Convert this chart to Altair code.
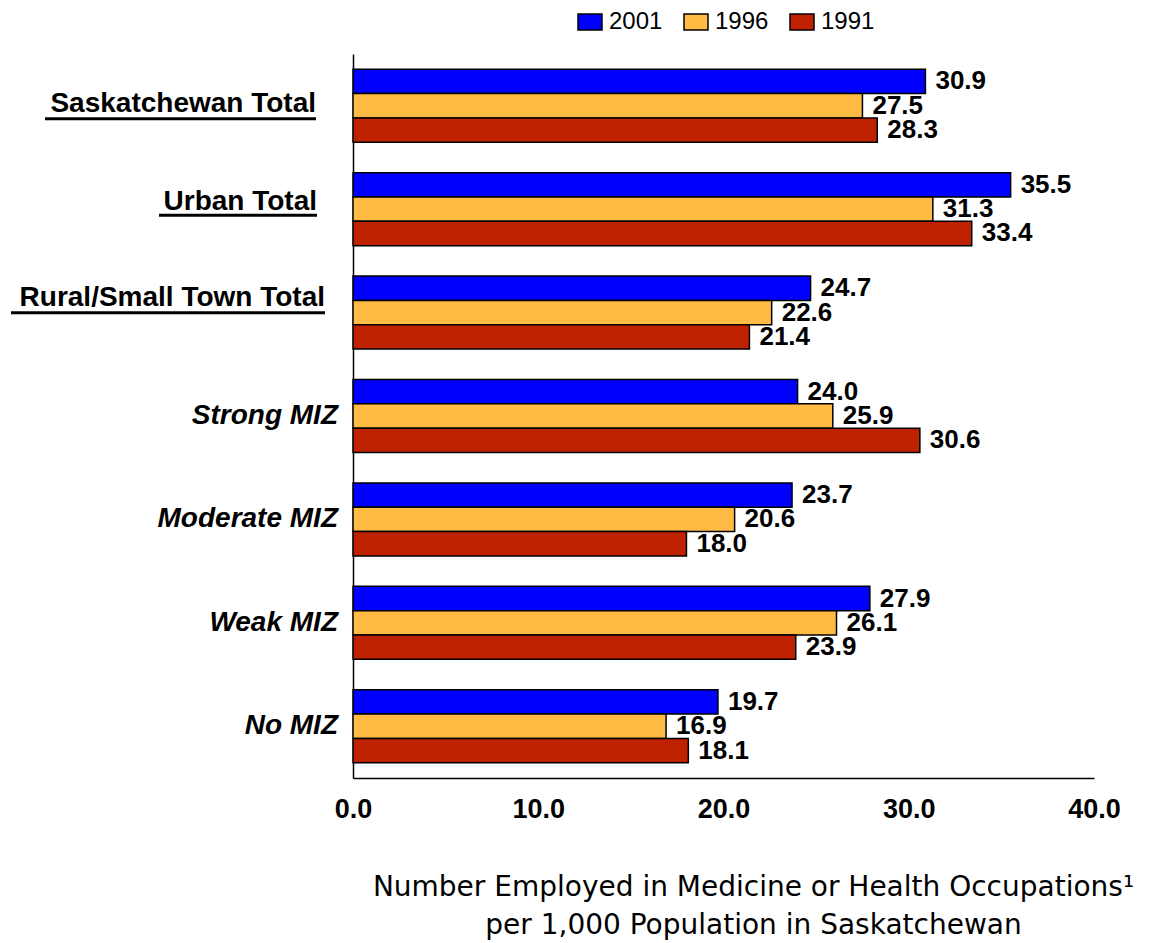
import altair as alt
import pandas as pd

# ---- data ----
categories = ["Saskatchewan Total", "Urban Total", "Rural/Small Town Total",
              "Strong MIZ", "Moderate MIZ", "Weak MIZ", "No MIZ"]
years = ["2001", "1996", "1991"]
v2001 = [30.9, 35.5, 24.7, 24.0, 23.7, 27.9, 19.7]
v1996 = [27.5, 31.3, 22.6, 25.9, 20.6, 26.1, 16.9]
v1991 = [28.3, 33.4, 21.4, 30.6, 18.0, 23.9, 18.1]
x_ticks = [0, 10, 20, 30, 40]
title_lines = ["Number Employed in Medicine or Health Occupations\u00b9",
               "per 1,000 Population in Saskatchewan"]

# ---- styles ----
colors = ["#0000FF", "#FFBB44", "#BF2200"]
FONT = "Liberation Sans"
# per-label style: (right edge x, dy, italic, underline (x0, x1, bandPosition))
label_style = {
    "Saskatchewan Total": (-37, -1.5, False, (-308, -37, 0.678)),
    "Urban Total": (-36, -7.5, False, (-194, -36, 0.585)),
    "Rural/Small Town Total": (-28, -15, False, (-342, -28, 0.501)),
    "Strong MIZ": (-15, 0, True, None),
    "Moderate MIZ": (-15, 0, True, None),
    "Weak MIZ": (-15, 0, True, None),
    "No MIZ": (-15, 0, True, None),
}

rows = []
for yr, vals in zip(years, [v2001, v1996, v1991]):
    for c, v in zip(categories, vals):
        rows.append({"cat": c, "year": yr, "value": v})
df = pd.DataFrame(rows)
cat_df = pd.DataFrame({"cat": categories})

y_scale = alt.Scale(paddingInner=0.294, paddingOuter=0.147)
y_enc = alt.Y("cat:N", sort=categories, scale=y_scale,
              axis=alt.Axis(labels=False, ticks=False, title=None, grid=False,
                            domain=True, domainColor="black", domainWidth=1.5))
x_enc = alt.X("value:Q", scale=alt.Scale(domain=[0, 40], nice=False),
              axis=alt.Axis(values=x_ticks, format=".1f", title=None, grid=False,
                            ticks=False, labelFontSize=27, labelFontWeight="bold",
                            labelFont=FONT, labelColor="black", labelPadding=18,
                            labelFlush=False,
                            domainColor="black", domainWidth=1.5))

bars = alt.Chart(df).mark_bar(stroke="black", strokeWidth=1.5).encode(
    x=x_enc,
    y=y_enc,
    yOffset=alt.YOffset("year:N", sort=years,
                        scale=alt.Scale(paddingInner=0, paddingOuter=0)),
    color=alt.Color("year:N", sort=years,
                    scale=alt.Scale(domain=years, range=colors),
                    legend=alt.Legend(orient="none", legendX=220, legendY=-49,
                                      direction="horizontal", title=None,
                                      symbolType="M-0.75,-0.5H0.75V0.5H-0.75Z",
                                      symbolSize=1024, symbolStrokeColor="black",
                                      symbolStrokeWidth=1.5, symbolOpacity=1,
                                      labelFontSize=24, labelFont=FONT,
                                      labelColor="black", labelOffset=2,
                                      columnPadding=16, padding=0)),
)

values_text = alt.Chart(df).mark_text(
    align="left", baseline="middle", dx=10, fontSize=26, fontWeight="bold",
    font=FONT, color="black"
).encode(
    x="value:Q",
    y=alt.Y("cat:N", sort=categories),
    yOffset=alt.YOffset("year:N", sort=years),
    text=alt.Text("value:Q", format=".1f"),
)

layers = [bars, values_text]
for c in categories:
    xe, dy, italic, ul = label_style[c]
    layers.append(
        alt.Chart(cat_df).transform_filter(alt.datum.cat == c).mark_text(
            align="right", baseline="middle", dy=dy, fontSize=28,
            fontWeight="bold", fontStyle="italic" if italic else "normal",
            font=FONT, color="black"
        ).encode(x=alt.value(xe), y=alt.Y("cat:N", sort=categories), text="cat:N")
    )
    if ul is not None:
        x0, x1, bp = ul
        layers.append(
            alt.Chart(cat_df).transform_filter(alt.datum.cat == c).mark_rule(
                strokeWidth=3, color="black"
            ).encode(x=alt.value(x0), x2=alt.value(x1),
                     y=alt.Y("cat:N", sort=categories, bandPosition=bp))
        )

chart = alt.layer(*layers).properties(
    width=741, height=724,
    autosize="none",
    padding={"left": 353, "top": 54, "right": 55, "bottom": 165},
    background="white",
    title=alt.TitleParams(title_lines, orient="bottom", anchor="middle", dx=30,
                          fontSize=28, font="DejaVu Sans", fontWeight="normal",
                          color="black", lineHeight=38, offset=52),
).configure_view(stroke=None)

chart.save("out.html", embed_options={"renderer": "svg", "actions": False})
